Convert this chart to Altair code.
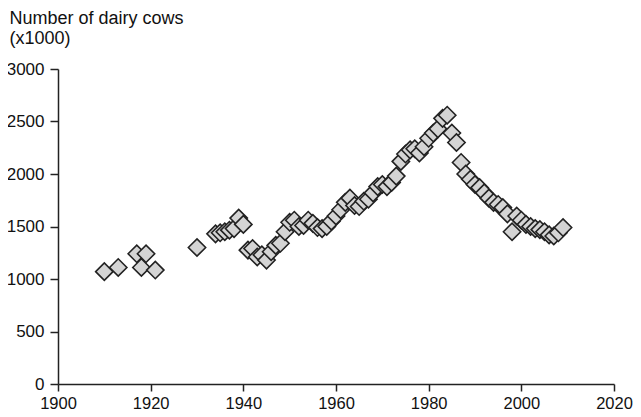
import altair as alt
import pandas as pd

years = [1910, 1913, 1917, 1918, 1919, 1921, 1930,
         1934, 1935, 1936, 1937, 1938, 1939, 1940,
         1941, 1942, 1943, 1944, 1945, 1946, 1947, 1948, 1949, 1950,
         1951, 1952, 1953, 1954, 1955, 1956, 1957, 1958, 1959, 1960,
         1961, 1962, 1963, 1964, 1965, 1966, 1967, 1968, 1969, 1970,
         1971, 1972, 1973, 1974, 1975, 1976, 1977, 1978, 1979, 1980,
         1981, 1982, 1983, 1984, 1985, 1986, 1987, 1988, 1989, 1990,
         1991, 1992, 1993, 1994, 1995, 1996, 1997, 1998, 1999, 2000,
         2001, 2002, 2003, 2004, 2005, 2006, 2007, 2008, 2009]
cows = [1070, 1110, 1240, 1110, 1240, 1085, 1300,
        1430, 1440, 1450, 1465, 1480, 1580, 1520,
        1275, 1290, 1210, 1230, 1180, 1260, 1320, 1340, 1450, 1540,
        1560, 1500, 1510, 1560, 1530, 1490, 1480, 1500, 1550, 1600,
        1660, 1730, 1770, 1700, 1690, 1740, 1760, 1820, 1880, 1900,
        1880, 1920, 1980, 2120, 2190, 2230, 2240, 2200, 2260, 2340,
        2390, 2430, 2530, 2560, 2390, 2300, 2110, 2000, 1950, 1900,
        1870, 1820, 1770, 1730, 1710, 1680, 1620, 1450, 1600, 1560,
        1520, 1500, 1480, 1470, 1450, 1420, 1410, 1440, 1490]

x_ticks = [1900, 1920, 1940, 1960, 1980, 2000, 2020]
y_ticks = [0, 500, 1000, 1500, 2000, 2500, 3000]

df = pd.DataFrame({"year": years, "cows": cows})

FONT = "Liberation Sans"

chart = alt.Chart(df).mark_point(
    shape="diamond", filled=True, fill="#d4d4d4", stroke="#222222",
    strokeWidth=1.6, size=300, opacity=1
).encode(
    x=alt.X("year:Q",
            scale=alt.Scale(domain=[1900, 2020], nice=False, zero=False),
            axis=alt.Axis(values=x_ticks, format="d", title=None,
                          grid=False, domainColor="#222222", tickColor="#222222",
                          domainWidth=1.5, tickWidth=1.5, tickSize=7,
                          labelPadding=4, labelFont=FONT, labelFontSize=16.5,
                          labelColor="#111111", labelFlush=False)),
    y=alt.Y("cows:Q",
            scale=alt.Scale(domain=[0, 3000], nice=False),
            axis=alt.Axis(values=y_ticks, format="d", grid=False,
                          title=["Number of dairy cows", "(x1000)"],
                          titleAngle=0, titleAlign="left", titleBaseline="alphabetic",
                          titleX=-49, titleY=-46, titleFont=FONT, titleFontSize=18,
                          titleFontWeight="normal", titleColor="#111111",
                          titleLineHeight=20,
                          domainColor="#222222", tickColor="#222222",
                          domainWidth=1.5, tickWidth=1.5, tickSize=8,
                          labelPadding=6, labelFont=FONT, labelFontSize=17,
                          labelColor="#111111", labelFlush=False))
).properties(
    width=556, height=315,
    autosize=alt.AutoSizeParams(type="none"),
    padding={"left": 50, "top": 61, "right": 19, "bottom": 30}
).configure_view(stroke=None)

chart.save("out.html", embed_options={"renderer": "svg", "actions": False})
